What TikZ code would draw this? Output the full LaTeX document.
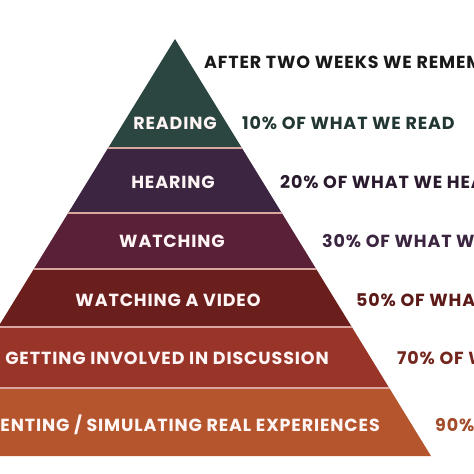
\documentclass[tikz,border=0pt]{standalone}
\usepackage{fontspec}
\setmainfont{Poppins}[LetterSpace=5]
\definecolor{readcol}{HTML}{2B4540}
\definecolor{hearcol}{HTML}{3B2540}
\definecolor{watchcol}{HTML}{5A2038}
\definecolor{videocol}{HTML}{6B1F1C}
\definecolor{talkcol}{HTML}{993428}
\definecolor{doingcol}{HTML}{B4552D}
\definecolor{seamcol}{HTML}{D9A7A0}
\begin{document}
\begin{tikzpicture}[x=1pt,y=-1pt,
  level/.style={font=\bfseries\fontsize{17.5}{17.5}\selectfont, text=white!96!red, inner sep=0pt, anchor=base},
  note/.style={font=\bfseries\fontsize{17.5}{17.5}\selectfont, inner sep=0pt, anchor=base west}]
  \useasboundingbox (0,0) rectangle (474,474);
  \clip (0,0) rectangle (474,474);
  % Corners of the pyramid
  \coordinate (apex) at (175,39);
  \coordinate (bl) at (-81,456);
  \coordinate (br) at (431,456);
  \begin{scope}
    \clip (apex) -- (bl) -- (br) -- cycle;
    % Bands from the top down
    \foreach \ya/\yb/\c in {0/148/readcol, 148/213/hearcol, 213/269/watchcol,
                            269/327/videocol, 327/388/talkcol, 388/460/doingcol} {
      \fill[\c] (-100,\ya) rectangle (500,\yb);
    }
    % Light seams between the bands
    \foreach \y in {148,213,269,327,388} {
      \draw[seamcol, line width=1.2pt] (-100,\y) -- (500,\y);
    }
  \end{scope}
  % Labels inside the bands
  \node[level] (reading) at (175,129) {READING};
  \node[level] (hearing) at (173,188) {HEARING};
  \node[level] (watching) at (172,247) {WATCHING};
  \node[level] (video) at (168,306) {WATCHING A VIDEO};
  \node[level] (talking) at (167,364) {GETTING INVOLVED IN DISCUSSION};
  \node[level, anchor=base east] (doing) at (380,431) {ENTING / SIMULATING REAL EXPERIENCES};
  % Notes on the right
  \node[note, text=black!90] (after) at (204,68) {AFTER TWO WEEKS WE REMEMBER};
  \node[note, text=readcol!80!black] (tenpc) at (242,129) {10\% OF WHAT WE READ};
  \node[note, text=hearcol!70!black] (twentypc) at (280,188) {20\% OF WHAT WE HEAR};
  \node[note, text=hearcol] (thirtypc) at (322,247) {30\% OF WHAT WE};
  \node[note, text=videocol!85!black] (fiftypc) at (356,306) {50\% OF WHAT};
  \node[note, text=talkcol!75!black] (seventypc) at (397,364) {70\% OF WHAT};
  \node[note, text=doingcol!90!black] (ninetypc) at (435,431) {90\%};
\end{tikzpicture}
\end{document}
